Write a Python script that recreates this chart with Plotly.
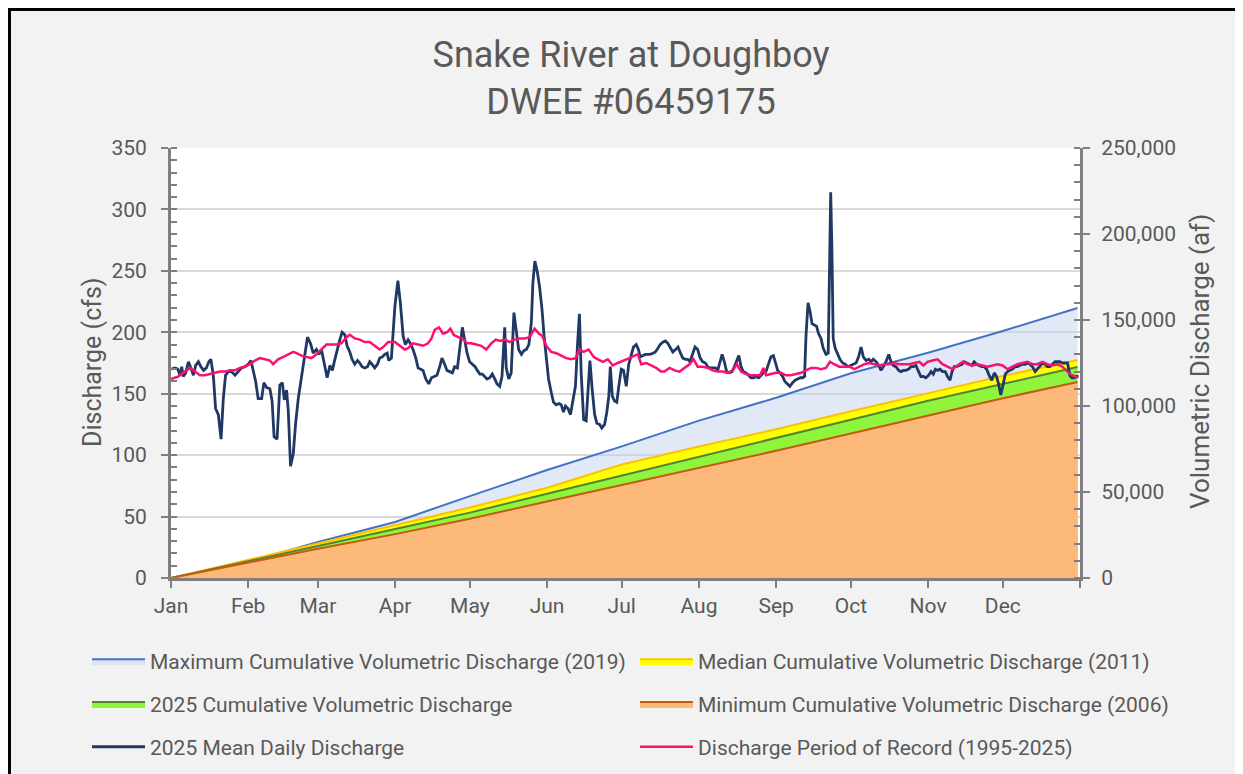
import pandas as pd
import plotly.graph_objects as go

# ---------------- data ----------------
months = ["Jan", "Feb", "Mar", "Apr", "May", "Jun", "Jul", "Aug", "Sep", "Oct", "Nov", "Dec"]

# cumulative volumetric discharge (acre-feet) at month starts and year end
cum_dates = ["2025-01-01", "2025-02-01", "2025-03-01", "2025-04-01", "2025-05-01", "2025-06-01",
             "2025-07-01", "2025-08-01", "2025-09-01", "2025-10-01", "2025-11-01", "2025-12-01",
             "2025-12-31"]
max_2019_af = [0, 9300, 20900, 32600, 47600, 62800, 76500, 91500, 104800, 119000, 131000, 143600, 157000]
median_2011_af = [0, 10500, 20300, 30500, 41000, 52500, 66000, 76500, 86500, 97000, 107500, 117500, 126700]
cum_2025_af = [0, 10000, 18600, 28500, 38000, 49000, 59500, 70500, 81500, 92000, 103000, 113000, 122700]
min_2006_af = [0, 9000, 17000, 25500, 34500, 44500, 54000, 64000, 74000, 84000, 94500, 104500, 114000]

# 2025 mean daily discharge (cfs); day offset from Jan 1
daily_doy = [0.0, 1.6, 2.7, 3.6, 4.3, 4.9, 5.9, 7.0, 8.0, 9.0, 9.9, 11.0, 12.0, 13.1, 14.2, 15.2, 16.0, 17.0,
             17.9, 19.0, 20.1, 21.0, 21.9, 23.0, 24.3, 25.7, 27.0, 28.3, 29.7, 31.0, 32.1, 33.0, 34.0, 35.0,
             36.4, 37.3, 38.4, 39.7, 40.6, 41.4, 42.6, 43.7, 44.7, 45.5, 46.4, 47.1, 48.0, 49.1, 50.0, 51.1,
             52.4, 53.7, 54.8, 56.0, 57.1, 58.4, 59.4, 60.4, 61.5, 62.7, 63.8, 64.8, 65.8, 66.8, 67.8, 68.7,
             69.8, 70.7, 71.8, 72.7, 73.8, 74.9, 75.8, 76.7, 77.8, 78.9, 79.8, 80.7, 81.8, 82.9, 83.8, 84.9,
             85.8, 86.8, 87.4, 88.5, 89.9, 91.1, 92.1, 93.2, 94.1, 95.2, 96.1, 97.2, 98.3, 99.2, 100.1, 101.2,
             102.3, 103.5, 104.6, 105.6, 106.8, 107.9, 108.8, 109.9, 110.8, 111.9, 113.0, 113.9, 115.0, 115.9,
             117.0, 117.9, 118.9, 119.9, 121.0, 122.1, 123.0, 124.0, 125.0, 126.0, 126.9, 128.0, 129.0, 130.0,
             130.9, 132.0, 132.9, 134.0, 134.6, 135.6, 136.6, 137.7, 138.7, 139.6, 140.7, 141.7, 142.7, 143.7,
             144.7, 145.3, 146.1, 147.1, 148.0, 149.0, 149.8, 150.7, 151.6, 152.7, 153.6, 154.7, 155.8, 156.7,
             157.6, 158.4, 159.4, 160.4, 161.4, 162.4, 163.2, 164.0, 164.7, 165.7, 166.7, 167.5, 168.2, 169.1,
             170.1, 171.0, 172.1, 173.0, 174.1, 175.0, 175.8, 176.4, 177.2, 178.1, 179.0, 179.8, 180.8, 181.7,
             182.8, 183.8, 184.8, 185.7, 186.8, 187.7, 188.4, 189.5, 190.5, 191.5, 192.4, 193.5, 194.5, 195.5,
             196.4, 197.5, 198.5, 199.5, 200.4, 201.5, 202.6, 203.6, 204.6, 205.5, 206.6, 207.5, 208.4, 209.5,
             210.4, 211.5, 212.5, 213.5, 214.6, 215.5, 216.5, 217.5, 218.6, 219.5, 220.5, 221.3, 222.2, 223.1,
             224.2, 225.3, 226.2, 227.2, 228.0, 228.9, 229.8, 230.9, 231.8, 232.9, 234.0, 234.9, 236.0, 236.9,
             237.9, 238.9, 239.9, 240.9, 241.9, 242.7, 243.6, 244.5, 245.6, 246.5, 247.6, 248.5, 249.6, 250.6,
             251.6, 252.7, 253.6, 254.4, 255.0, 255.8, 256.6, 257.4, 258.3, 259.2, 260.0, 261.0, 261.9, 263.0,
             263.9, 264.3, 264.9, 265.4, 265.9, 266.7, 267.7, 268.6, 269.7, 270.7, 271.8, 273.7, 275.1, 276.1,
             277.1, 278.0, 279.1, 280.2, 281.1, 282.0, 283.1, 284.2, 285.1, 286.0, 287.1, 288.2, 289.1, 290.0,
             291.1, 292.2, 293.1, 294.1, 295.1, 296.2, 297.1, 298.1, 299.1, 300.2, 301.1, 302.1, 303.1, 304.2,
             305.2, 306.1, 306.9, 307.8, 308.8, 309.8, 310.9, 311.8, 312.8, 313.6, 314.5, 315.4, 316.5, 317.6,
             318.5, 319.5, 320.5, 321.6, 322.5, 323.5, 324.5, 325.6, 326.5, 327.5, 328.5, 329.6, 330.6, 331.5,
             332.3, 333.2, 334.2, 335.0, 335.9, 336.8, 337.9, 339.0, 339.9, 340.8, 341.9, 343.0, 343.9, 344.9,
             345.9, 347.0, 347.9, 348.9, 349.9, 351.0, 351.9, 352.9, 354.0, 355.0, 356.0, 356.9, 358.0, 359.0,
             360.0, 360.9, 361.7, 362.7, 363.6, 364.4]
daily_cfs = [170, 171, 170, 165, 172, 164, 167, 176, 171, 165, 173, 176, 172, 169, 171, 176, 178, 165,
             138, 133, 113, 146, 165, 168, 168, 165, 168, 171, 172, 174, 177, 169, 160, 146,
             146, 159, 155, 154, 144, 115, 113, 157, 159, 145, 153, 136, 91, 101, 125, 146,
             163, 179, 196, 191, 183, 186, 182, 186, 174, 163, 173, 169, 178, 187, 194, 200,
             198, 189, 184, 178, 174, 177, 175, 172, 171, 172, 176, 174, 171, 174, 179, 180,
             182, 183, 177, 179, 221, 242, 224, 197, 190, 194, 191, 186, 179, 171, 170, 169,
             162, 158, 163, 164, 165, 172, 179, 174, 169, 168, 167, 172, 171, 186,
             204, 194, 183, 176, 174, 172, 169, 166, 166, 164, 162, 163, 166, 162,
             158, 156, 164, 204, 171, 162, 167, 216, 202, 186, 182, 185, 186, 190,
             208, 240, 258, 249, 237, 218, 197, 178, 162, 151, 143, 141, 142, 141,
             135, 140, 138, 133, 145, 156, 189, 215, 167, 129, 128, 154, 177, 154,
             133, 126, 125, 122, 125, 135, 148, 172, 148, 144, 143, 156, 170, 169,
             156, 174, 182, 188, 190, 186, 180, 181, 182, 182, 182, 183, 184, 187,
             190, 192, 193, 191, 188, 184, 186, 188, 183, 179, 178, 178, 176, 183,
             188, 186, 179, 176, 175, 172, 171, 171, 171, 169, 177, 182, 176, 168,
             167, 168, 172, 178, 181, 172, 168, 167, 165, 163, 163, 164, 163, 165,
             167, 168, 175, 180, 181, 176, 169, 167, 164, 160, 158, 156, 159, 161,
             162, 163, 163, 164, 198, 224, 217, 207, 206, 205, 199, 195, 187, 182,
             183, 238, 314, 265, 195, 187, 182, 178, 175, 174, 172, 174, 175, 180,
             188, 180, 177, 178, 176, 178, 176, 173, 169, 172, 176, 182, 176, 173,
             172, 169, 168, 169, 169, 170, 172, 172, 173, 168, 164, 164, 163, 165,
             168, 166, 170, 169, 170, 168, 168, 164, 161, 168, 172, 172, 173, 174,
             176, 175, 174, 173, 176, 174, 173, 172, 172, 170, 165, 161, 167, 164,
             158, 149, 158, 166, 168, 169, 170, 172, 172, 173, 174, 174, 175, 174,
             172, 168, 170, 173, 175, 174, 172, 172, 174, 176, 176, 176, 175, 175,
             175, 165, 163, 163, 164, 164]

# discharge period of record 1995-2025 (cfs)
por_doy = [0.0, 2.9, 5.6, 7.6, 9.6, 11.6, 13.6, 15.6, 17.6, 19.7, 21.7, 23.7, 25.7, 27.7, 29.7, 31.7, 33.7,
           35.7, 37.7, 39.7, 41.0, 43.0, 45.1, 47.1, 49.1, 50.4, 52.4, 54.3, 56.4, 58.4, 60.4, 62.4, 64.4,
           66.4, 68.4, 70.5, 71.8, 73.8, 75.8, 77.8, 79.8, 81.8, 83.8, 85.2, 87.2, 89.9, 91.9, 93.9, 95.2,
           97.2, 99.2, 101.2, 103.2, 104.6, 105.9, 107.6, 109.2, 110.8, 112.2, 113.5, 115.3, 117.0, 118.9,
           120.6, 122.6, 124.6, 126.6, 128.6, 130.4, 132.2, 134.0, 136.0, 138.0, 140.0, 142.0, 144.0, 146.0,
           147.7, 149.1, 150.7, 152.7, 154.7, 156.7, 158.7, 160.7, 162.5, 164.0, 165.7, 167.7, 169.7, 171.4,
           173.4, 175.4, 177.4, 179.4, 182.1, 184.1, 186.1, 187.5, 188.8, 190.8, 192.8, 194.8, 196.8, 198.1,
           200.2, 202.2, 204.2, 206.2, 208.2, 209.8, 211.5, 213.5, 215.5, 217.5, 219.5, 221.5, 223.5, 225.6,
           227.2, 228.9, 230.9, 232.9, 234.9, 236.5, 237.9, 238.9, 240.9, 242.9, 244.9, 246.9, 248.9, 251.0,
           253.0, 255.0, 257.0, 259.0, 261.0, 263.0, 264.6, 266.3, 268.3, 270.3, 272.4, 274.4, 276.4, 278.4,
           280.4, 282.4, 284.4, 286.4, 288.4, 290.4, 292.5, 294.5, 296.5, 298.5, 300.5, 302.1, 303.8, 305.8,
           307.8, 309.8, 311.8, 313.8, 315.8, 317.9, 319.9, 321.9, 323.9, 325.9, 327.9, 329.9, 331.9, 333.9,
           335.9, 337.9, 339.9, 341.9, 343.9, 345.9, 347.9, 349.9, 351.9, 353.9, 355.9, 357.9, 359.9, 361.0,
           364.0]
por_cfs = [162, 164, 168, 171, 168, 165, 165, 166, 167, 168, 168, 169, 169, 171, 172, 174, 177,
           179, 178, 177, 174, 178, 180, 182, 184, 183, 181, 180, 179, 182, 186, 190, 190,
           190, 191, 196, 198, 195, 194, 192, 192, 189, 186, 188, 192, 192, 189, 186, 187,
           191, 190, 189, 191, 195, 202, 204, 199, 200, 203, 198, 196, 195, 191,
           191, 190, 189, 186, 191, 194, 193, 194, 192, 194, 195, 195, 196, 203,
           199, 197, 189, 184, 183, 181, 179, 178, 179, 186, 184, 186, 180, 178,
           176, 178, 173, 175, 177, 179, 181, 182, 174, 175, 173, 171, 168, 168,
           171, 169, 168, 171, 174, 178, 172, 172, 171, 169, 168, 168, 167, 169,
           174, 168, 166, 165, 165, 165, 171, 165, 166, 167, 167, 165, 165, 166,
           167, 169, 171, 171, 170, 171, 176, 174, 172, 172, 172, 170, 172, 174,
           175, 174, 173, 174, 174, 175, 174, 174, 174, 175, 176, 173, 176, 177,
           178, 174, 172, 170, 173, 176, 174, 173, 174, 173, 172, 173, 174, 173,
           170, 172, 174, 175, 176, 174, 174, 176, 174, 173, 174, 172, 168, 166,
           163]

# ---------------- figure ----------------
W, H = 1235, 766            # page body has an 8px margin
L, R, T, B = 163, 163, 140, 196
PW, PH = W - L - R, H - T - B


def px_x(px):
    return (px - L) / PW


def px_y(py):
    return (H - B - py) / PH


start = pd.Timestamp("2025-01-01")
daily_x = [start + pd.to_timedelta(d, unit="D") for d in daily_doy]
por_x = [start + pd.to_timedelta(d, unit="D") for d in por_doy]
cum_x = pd.to_datetime(cum_dates)

FONT = "Roboto"
GRAY = "#595959"

fig = go.Figure()

areas = [
    ("Maximum Cumulative Volumetric Discharge (2019)", max_2019_af, "rgba(196,211,238,0.5)", "#4472c4", "legend"),
    ("Median Cumulative Volumetric Discharge (2011)", median_2011_af, "#ffff00", "#ffc000", "legend2"),
    ("2025 Cumulative Volumetric Discharge", cum_2025_af, "#8ff53c", "#548235", "legend"),
    ("Minimum Cumulative Volumetric Discharge (2006)", min_2006_af, "#fdb97a", "#c55a11", "legend2"),
]
for name, vals, fc, lc, lg in areas:
    fig.add_trace(go.Scatter(x=cum_x, y=vals, name=name, mode="lines", fill="tozeroy",
                             fillcolor=fc, line=dict(color=lc, width=2), yaxis="y",
                             legend=lg, legendgroup=name, hoverinfo="skip"))

fig.add_trace(go.Scatter(x=daily_x, y=daily_cfs, name="2025 Mean Daily Discharge", mode="lines",
                         line=dict(color="#203864", width=2.8), yaxis="y2", legend="legend",
                         legendgroup="mean"))
fig.add_trace(go.Scatter(x=por_x, y=por_cfs, name="Discharge Period of Record (1995-2025)", mode="lines",
                         line=dict(color="#ff0f6f", width=2.5), yaxis="y2", legend="legend2",
                         legendgroup="por"))

month_ticks = list(pd.date_range("2025-01-01", periods=13, freq="MS"))

axis_common = dict(showline=True, linecolor="#7f7f7f", linewidth=3, zeroline=False,
                   tickfont=dict(family=FONT, size=21, color=GRAY), tickcolor="#7f7f7f")

legend_common = dict(orientation="v", xanchor="left", yanchor="top", xref="container", yref="container",
                     y=(H - 633) / H, bgcolor="rgba(0,0,0,0)", font=dict(family=FONT, size=21, color=GRAY),
                     itemwidth=53, traceorder="grouped", tracegroupgap=12.5)

fig.update_layout(
    width=W, height=H,
    paper_bgcolor="#f2f2f2", plot_bgcolor="#ffffff",
    margin=dict(l=L, r=R, t=T, b=B, autoexpand=False),
    font=dict(family=FONT, color=GRAY),
    title=dict(text="Snake River at Doughboy<br>DWEE #06459175", x=623 / W, xanchor="center",
               y=1 - 59 / H, yanchor="middle", yref="container",
               font=dict(family=FONT, size=36, color=GRAY)),
    xaxis=dict(type="date", range=["2025-01-01", "2026-01-01"], tickvals=month_ticks,
               ticktext=months + [""], ticks="outside", ticklen=7, tickwidth=2, showgrid=False,
               **axis_common),
    yaxis=dict(range=[0, 250000], tickvals=[0, 50000, 100000, 150000, 200000, 250000],
               tickformat=",", side="right", ticks="outside", ticklen=7, tickwidth=2,
               showgrid=False, ticklabelstandoff=7,
               minor=dict(dtick=10000, ticks="inside", ticklen=6, tickwidth=2, tickcolor="#7f7f7f"),
               **axis_common),
    yaxis2=dict(range=[0, 350], dtick=50, overlaying="y", side="left", ticks="outside",
                ticklen=7, tickwidth=2, showgrid=True, gridcolor="#d9d9d9", gridwidth=2,
                ticklabelstandoff=10,
                minor=dict(dtick=10, ticks="inside", ticklen=6, tickwidth=2, tickcolor="#7f7f7f"),
                **axis_common),
    legend=dict(x=79 / W, **legend_common),
    legend2=dict(x=627 / W, **legend_common),
    showlegend=True,
    annotations=[
        dict(text="Discharge (cfs)", xref="paper", yref="paper", x=px_x(84), y=px_y(354),
             xanchor="center", yanchor="middle", textangle=-90, showarrow=False,
             font=dict(family=FONT, size=25, color=GRAY)),
        dict(text="Volumetric Discharge (af)", xref="paper", yref="paper", x=px_x(1192), y=px_y(354),
             xanchor="center", yanchor="middle", textangle=-90, showarrow=False,
             font=dict(family=FONT, size=26, color=GRAY)),
    ],
    shapes=[
        dict(type="line", xref="paper", yref="paper", x0=px_x(0), x1=px_x(W),
             y0=px_y(1.5), y1=px_y(1.5), line=dict(color="#000000", width=3)),
        dict(type="line", xref="paper", yref="paper", x0=px_x(1.5), x1=px_x(1.5),
             y0=px_y(0), y1=px_y(H), line=dict(color="#000000", width=3)),
    ],
)

fig.write_html("out.html", post_script="document.body.style.overflow='hidden';")
